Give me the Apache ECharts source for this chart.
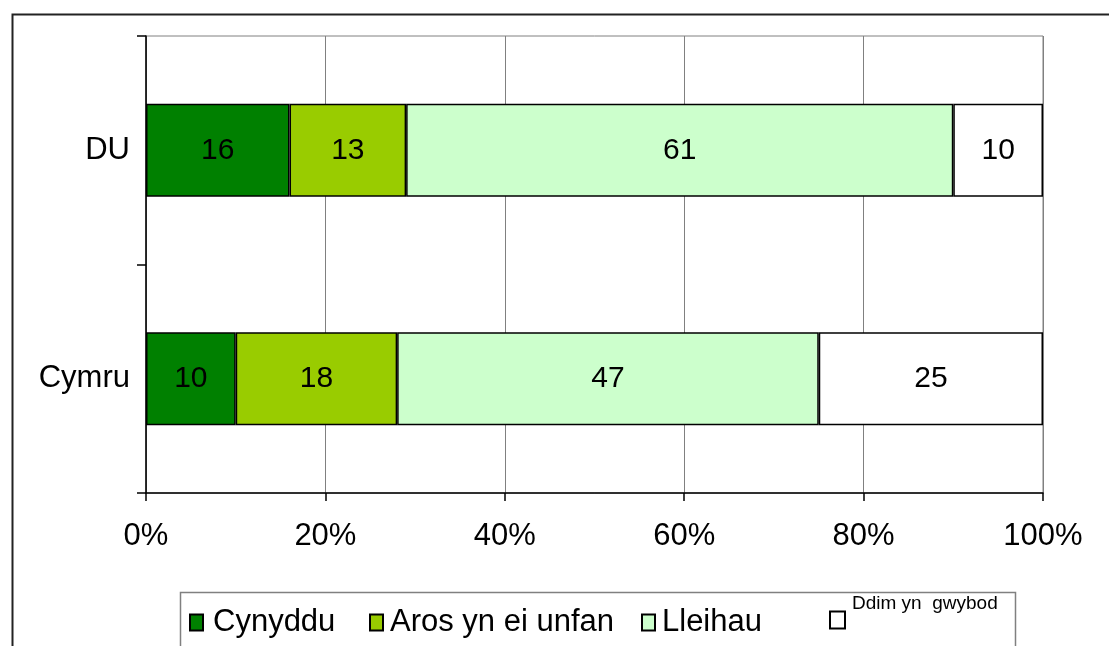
<!DOCTYPE html>
<html>
<head>
<meta charset="utf-8">
<script src="https://cdn.jsdelivr.net/npm/echarts@6/dist/echarts.min.js"></script>
<style>
  html, body { margin: 0; padding: 0; background: #fff; }
  #main { width: 1109px; height: 646px; }
</style>
</head>
<body>
<div id="main"></div>
<script>
// categories (bottom to top, so DU ends up on top)
const categories = ['Cymru', 'DU'];
const xTicks = [0, 20, 40, 60, 80, 100];

const seriesNames = ['Cynyddu', 'Aros yn ei unfan', 'Lleihau', 'Ddim yn  gwybod'];
const cynyddu = [10, 16];
const arosYnEiUnfan = [18, 13];
const lleihau = [47, 61];
const ddimYnGwybod = [25, 10];

const colours = ['#008000', '#99CC00', '#CCFFCC', '#FFFFFF'];
const seriesData = [cynyddu, arosYnEiUnfan, lleihau, ddimYnGwybod];

const FONT = 'Liberation Sans, Arial, sans-serif';

/* ============================
   LEGEND (one block per item, Excel-like spacing)
============================ */
const legendLeft = [184, 364, 636, 824];
const legendPad = [5, 2, 2, 2];
const legends = seriesNames.map((name, i) => {
    const last = i === 3;
    return {
        data: [name],
        left: legendLeft[i],
        top: last ? 583 : 602,
        orient: 'horizontal',
        itemWidth: last ? 15 : 13,
        itemHeight: last ? 17 : 16,
        selectedMode: false,
        icon: 'rect',
        // the last label sits raised like a superscript
        formatter: last ? (n => n + '\n ') : (n => n),
        textStyle: last
            ? { fontFamily: FONT, fontSize: 19, lineHeight: 32, color: '#000', padding: [0, 0, 0, legendPad[i]] }
            : { fontFamily: FONT, fontSize: 31, color: '#000', padding: [0, 0, 0, legendPad[i]] }
    };
});

const series = seriesNames.map((name, i) => ({
    name: name,
    type: 'bar',
    stack: 'total',
    barWidth: 93,
    data: seriesData[i],
    itemStyle: { color: colours[i], borderColor: '#000', borderWidth: 1.5 },
    label: {
        show: true,
        position: 'inside',
        color: '#000',
        fontFamily: FONT,
        fontSize: 30
    }
}));

const myChart = echarts.init(document.getElementById('main'));

myChart.setOption({
    animation: false,
    backgroundColor: '#fff',
    grid: {
        left: 146,
        right: 66,
        top: 36,
        bottom: 153,
        show: true,
        borderColor: '#808080',
        borderWidth: 1
    },
    xAxis: {
        type: 'value',
        min: xTicks[0],
        max: xTicks[xTicks.length - 1],
        interval: 20,
        axisLine: { show: true, lineStyle: { color: '#000', width: 1.5 } },
        axisTick: { show: true, length: 8, lineStyle: { color: '#000', width: 1.5 } },
        splitLine: { show: true, lineStyle: { color: '#808080', width: 1 } },
        axisLabel: {
            formatter: '{value}%',
            color: '#000',
            fontFamily: FONT,
            fontSize: 31,
            margin: 28
        }
    },
    yAxis: {
        type: 'category',
        data: categories,
        axisLine: { show: true, lineStyle: { color: '#000', width: 1.5 } },
        axisTick: { show: true, length: 9, lineStyle: { color: '#000', width: 1.5 } },
        axisLabel: {
            color: '#000',
            fontFamily: FONT,
            fontSize: 31,
            margin: 16
        }
    },
    legend: legends,
    graphic: [
        {
            type: 'rect',
            left: 10, top: 12,
            shape: { width: 1120, height: 700 },
            style: { fill: 'none', stroke: '#222', lineWidth: 2 },
            z: -10
        },
        {
            type: 'rect',
            left: 178, top: 590,
            shape: { width: 835, height: 80 },
            style: { fill: 'none', stroke: '#808080', lineWidth: 1.5 },
            z: -5
        }
    ],
    series: series
});

window.addEventListener('resize', () => myChart.resize());
</script>
</body>
</html>
